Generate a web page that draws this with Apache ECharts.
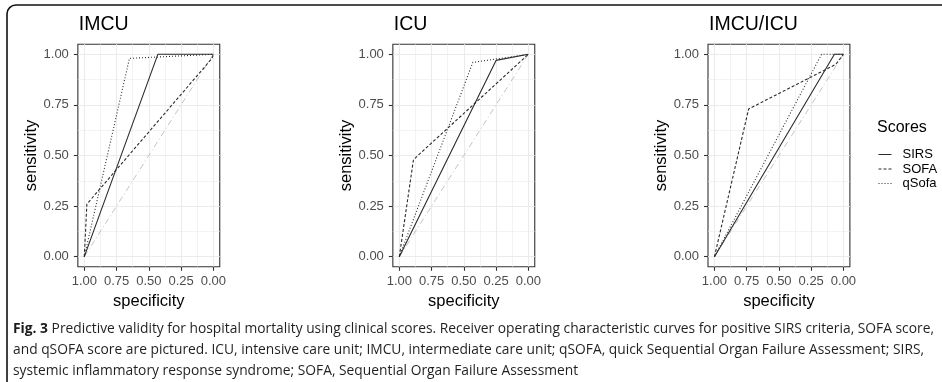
<!DOCTYPE html>
<html><head><meta charset="utf-8">
<script src="https://cdn.jsdelivr.net/npm/echarts@6/dist/echarts.min.js"></script>
<style>html,body{margin:0;padding:0;background:#fff}#c{width:942px;height:382px}</style>
</head><body><div id="c"></div>
<script>
// ---------- data ----------
const panelTitles = ['IMCU', 'ICU', 'IMCU/ICU'];
const scoreNames = ['SIRS', 'SOFA', 'qSofa'];
const tickValues = [0, 0.25, 0.5, 0.75, 1];
const minorTickValues = [0.125, 0.375, 0.625, 0.875];

// IMCU
const imcuSirsSpec = [1, 0.43, 0];
const imcuSirsSens = [0, 1, 1];
const imcuSofaSpec = [1, 0.98, 0.01, 0];
const imcuSofaSens = [0, 0.26, 0.98, 1];
const imcuQsofaSpec = [1, 0.65, 0];
const imcuQsofaSens = [0, 0.98, 1];
// ICU
const icuSirsSpec = [1, 0.25, 0];
const icuSirsSens = [0, 0.97, 1];
const icuSofaSpec = [1, 0.89, 0];
const icuSofaSens = [0, 0.48, 1];
const icuQsofaSpec = [1, 0.43, 0];
const icuQsofaSens = [0, 0.96, 1];
// IMCU/ICU
const bothSirsSpec = [1, 0.07, 0];
const bothSirsSens = [0, 1, 1];
const bothSofaSpec = [1, 0.735, 0.06, 0];
const bothSofaSens = [0, 0.73, 0.95, 1];
const bothQsofaSpec = [1, 0.17, 0];
const bothQsofaSens = [0, 1, 1];
// reference diagonal
const refSpec = [1, 0];
const refSens = [0, 1];

const captionLines = [
  ['Fig. 3', ' Predictive validity for hospital mortality using clinical scores. Receiver operating characteristic curves for positive SIRS criteria, SOFA score,'],
  ['', 'and qSOFA score are pictured. ICU, intensive care unit; IMCU, intermediate care unit; qSOFA, quick Sequential Organ Failure Assessment; SIRS,'],
  ['', 'systemic inflammatory response syndrome; SOFA, Sequential Organ Failure Assessment']
];

// ---------- layout ----------
const FONT = '"Liberation Sans", Arial, sans-serif';
const CAPFONT = '"Open Sans", sans-serif';
const gridLeft = [77.85, 392.85, 708];
const gridTop = 44.2, gridW = 141.9, gridH = 222.6;

const panelData = [
  [[imcuSirsSpec, imcuSirsSens], [imcuSofaSpec, imcuSofaSens], [imcuQsofaSpec, imcuQsofaSens]],
  [[icuSirsSpec, icuSirsSens], [icuSofaSpec, icuSofaSens], [icuQsofaSpec, icuQsofaSens]],
  [[bothSirsSpec, bothSirsSens], [bothSofaSpec, bothSofaSens], [bothQsofaSpec, bothQsofaSens]]
];
const lineTypes = ['solid', [3, 2], [1, 2]];
const zip = (a, b) => a.map((v, k) => [v, b[k]]);

const grids = [], xAxes = [], yAxes = [], series = [], titles = [];
gridLeft.forEach((gl, i) => {
  grids.push({left: gl, top: gridTop, width: gridW, height: gridH, show: true,
    borderColor: '#333', borderWidth: 1.1, backgroundColor: 'transparent'});
  const common = {gridIndex: i, type: 'value', min: -0.05, max: 1.05};
  xAxes.push(Object.assign({}, common, {
    inverse: true, position: 'bottom',
    axisLine: {show: false, onZero: false},
    axisTick: {show: true, customValues: tickValues, length: 4, lineStyle: {color: '#333', width: 1.1}},
    axisLabel: {customValues: tickValues, formatter: v => v.toFixed(2), color: '#4d4d4d', fontSize: 13, margin: 8, fontFamily: FONT},
    splitLine: {show: true, lineStyle: {color: '#ebebeb', width: 1.1}},
    name: 'specificity', nameLocation: 'middle', nameGap: 26,
    nameTextStyle: {fontSize: 16.5, color: '#000', fontFamily: FONT}
  }));
  xAxes.push(Object.assign({}, common, {
    inverse: true, position: 'bottom',
    axisLine: {show: false, onZero: false},
    axisTick: {show: false, customValues: minorTickValues},
    axisLabel: {show: false, customValues: minorTickValues},
    splitLine: {show: true, lineStyle: {color: '#ebebeb', width: 0.6}}
  }));
  yAxes.push(Object.assign({}, common, {
    position: 'left',
    axisLine: {show: false, onZero: false},
    axisTick: {show: true, customValues: tickValues, length: 4, lineStyle: {color: '#333', width: 1.1}},
    axisLabel: {customValues: tickValues, formatter: v => v.toFixed(2), color: '#4d4d4d', fontSize: 13, margin: 9, fontFamily: FONT},
    splitLine: {show: true, lineStyle: {color: '#ebebeb', width: 1.1}},
    name: 'sensitivity', nameLocation: 'middle', nameGap: 38,
    nameTextStyle: {fontSize: 16.5, color: '#000', fontFamily: FONT}
  }));
  yAxes.push(Object.assign({}, common, {
    position: 'left',
    axisLine: {show: false, onZero: false},
    axisTick: {show: false, customValues: minorTickValues},
    axisLabel: {show: false, customValues: minorTickValues},
    splitLine: {show: true, lineStyle: {color: '#ebebeb', width: 0.6}}
  }));
  series.push({type: 'line', name: 'reference', xAxisIndex: 2 * i, yAxisIndex: 2 * i,
    data: zip(refSpec, refSens), symbol: 'none', silent: true,
    lineStyle: {color: '#c4c4c4', width: 1, type: [6, 3, 1, 3]}});
  panelData[i].forEach((d, j) => {
    series.push({type: 'line', name: scoreNames[j], xAxisIndex: 2 * i, yAxisIndex: 2 * i,
      data: zip(d[0], d[1]), symbol: 'none',
      lineStyle: {color: '#2b2b2b', width: 1.1, type: lineTypes[j]},
      itemStyle: {color: '#2b2b2b'}});
  });
  titles.push({text: panelTitles[i], left: gl + 1, top: 15, padding: 0,
    textStyle: {fontSize: 19.5, fontWeight: 'normal', color: '#000', fontFamily: FONT}});
});
titles.push({text: 'Scores', left: 877, top: 120, padding: 0,
  textStyle: {fontSize: 16, fontWeight: 'normal', color: '#000', fontFamily: FONT}});

// caption scale: fit first line to the measured span
const ctx = document.createElement('canvas').getContext('2d');
const CAPSIZE = 15;
ctx.font = 'bold ' + CAPSIZE + 'px ' + CAPFONT;
const wBold = ctx.measureText(captionLines[0][0]).width;
ctx.font = CAPSIZE + 'px ' + CAPFONT;
const wRest = ctx.measureText(captionLines[0][1]).width;
const capScale = 921 / (wBold + wRest);
const capY = [329, 350, 371];

const graphics = [{
  type: 'rect', shape: {x: 7, y: 5, width: 1000, height: 500, r: [9, 0, 0, 0]},
  style: {fill: 'none', stroke: '#111', lineWidth: 1.6}, silent: true
}];
captionLines.forEach((ln, k) => {
  graphics.push({
    type: 'text', x: 13, y: capY[k], scaleX: capScale, silent: true,
    style: {
      text: (ln[0] ? '{b|' + ln[0] + '}' : '') + '{r|' + ln[1] + '}',
      verticalAlign: 'middle', align: 'left',
      rich: {
        b: {fontWeight: 'bold', fontSize: CAPSIZE, fontFamily: CAPFONT, fill: '#1a1a1a'},
        r: {fontSize: CAPSIZE, fontFamily: CAPFONT, fill: '#231f20'}
      }
    }
  });
});

const chart = echarts.init(document.getElementById('c'), null, {renderer: 'canvas'});
chart.setOption({
  animation: false,
  backgroundColor: '#fff',
  title: titles,
  grid: grids,
  xAxis: xAxes,
  yAxis: yAxes,
  legend: {
    data: scoreNames, orient: 'vertical', left: 878, top: 148, padding: 0,
    itemWidth: 13, itemHeight: 14, itemGap: 1.5, selectedMode: false,
    itemStyle: {opacity: 0},
    lineStyle: {width: 1},
    textStyle: {fontSize: 13, color: '#000', fontFamily: FONT, padding: [0, 0, 0, 6]}
  },
  series: series,
  graphic: graphics
});
</script>
</body></html>
